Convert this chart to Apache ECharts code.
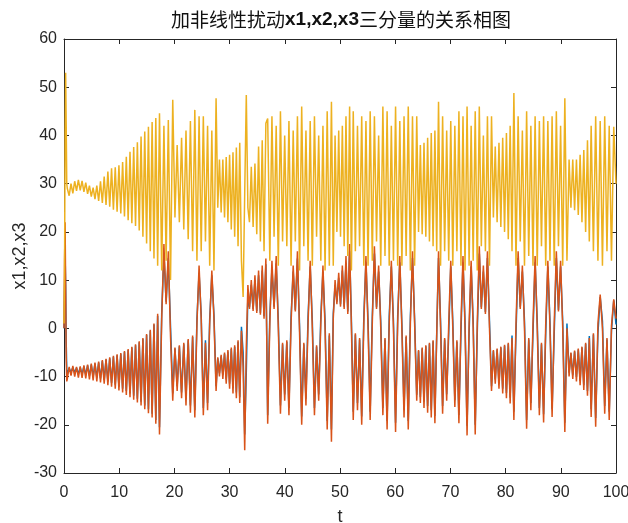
<!DOCTYPE html>
<html><head><meta charset="utf-8">
<script src="https://cdn.jsdelivr.net/npm/echarts@6/dist/echarts.min.js"></script>
<style>html,body{margin:0;padding:0;background:#fff}#c{width:628px;height:523px}</style>
</head><body><div id="c"></div>
<script>
// time at which each data segment starts; points inside a segment are evenly spaced
const segStart = [0, 0.6, 17.3, 19.7, 23.7, 27.55, 32.45, 33.6, 36.9, 48.45, 52.4, 63.9, 67.85, 77.45, 81.5, 91.5, 95.5];
const tEnd = 100;

// x2 (orange) successive extremes per segment
const x2Segs = [
  [0, 14, 22, 8, -6, -11],
  [-10.5,-8, -9.8,-7.8, -10,-8, -10.2,-7.9, -10.3,-7.7, -10.4,-7.5, -10.6,-7.3, -10.8,-7.1, -11,-6.9, -11.2,-6.6,
   -11.5,-6.3, -11.8,-6, -12.1,-5.7, -12.5,-5.4, -12.9,-5.1, -13.3,-4.7, -13.8,-4.3, -14.3,-3.8, -14.8,-3.3, -15.4,-2.7,
   -16,-2, -16.8,-1.2, -17.6,-0.3, -18.5,1, -19.8,3],
  [-22, 2, 17.5, 5, 16, -1.8],
  [-15, -4, -13, -3.5, -14.5, -3, -16, -2.2, -17.5, -1.5],
  [-18.5, 1, 13, 2, -18, -3, -17, 1, 12, 2],
  [-13, -6, -10, -5.5, -10.5, -5, -11.5, -4.5, -12.5, -4, -13.5, -3.5, -14.5, -2.5, -15.5, -0.5],
  [-8, -25.3, -4, 9],
  [4, 10, 3.6, 11, 3.2, 12, 2.8, 13, 2, 14.5],
  [-19.8, 1, 14, 4, 15, 0, -17.7, -3, -15, -2.5, -18, 1, 13, 3.5, 16, -1, -20, -3, -16, 1, 14, 0, -18, -3.5, -15, 1, 13, 0, -21, -1],
  [-23.5, 2, 10, 5, 11.5, 4.5, 13, 4, 15, 3, 17.5, 0],
  [-19, -1, -17, -2, -20, 1, 15, 0, -19, 1, 17, 4, 13, 0, -18, -2, -21, 1, 14, 0, -21.5, 1, 15, -0.5, -18.5, -1.5, -21, 1, 16, 1],
  [-15, -4.5, -15.5, -4, -16.5, -3.5, -17.5, -3, -18.5, -2.5, -19.7, -1.5],
  [16, 0, -17.7, -2, -15, 1, 14, 0, -16.3, -2.5, -19.7, 1, 15, 0, -22.2, 1, 14, 0, -22, 1, 17, 4, 13, 3, 16, 0],
  [-13, -4.5, -11.5, -4.2, -12.5, -3.8, -13.5, -3.4, -14.5, -3, -15.6, -2],
  [-19, 1, 16, 4, 13, 0, -20.8, -2, -17, 1, 15, 0, -18, -3, -19.5, 1, 14, 0, -18.4, 1, 16, 3.5, 14, 0, -21.5, 0],
  [-10, -5, -10.5, -4.6, -11, -4.2, -11.8, -3.8, -12.8, -3, -14, -2],
  [-18.4, -1, -20.4, 1, 7, 0, -17.7, -2, -19, 0.5, 6, 2]
];

// x1 (blue) successive extremes per segment
const x1Segs = [
  [0, 8, 15, 9, -3, -8.5],
  [-9.4,-8.3, -9.1,-8.1, -9.2,-8.2, -9.4,-8.1, -9.5,-7.9, -9.6,-7.7, -9.8,-7.5, -10,-7.3, -10.2,-7.1, -10.4,-6.8,
   -10.7,-6.5, -11,-6.2, -11.3,-5.9, -11.7,-5.6, -12.1,-5.3, -12.5,-4.9, -13,-4.5, -13.5,-4, -14,-3.5, -14.6,-2.9,
   -15.2,-2.2, -16,-1.4, -16.8,-0.5, -17.7,0.8, -19,2.6],
  [-20.5, 3, 15.5, 5.5, 14.5, 0.3],
  [-13.5, -4.2, -12, -3.7, -13.3, -3.3, -14.7, -2.5, -16, -1.8],
  [-17, 2, 11.5, 2.8, -16.5, -2.5, -15.5, 2, 11, 2.8],
  [-12, -6.2, -9.3, -5.8, -9.7, -5.3, -10.6, -4.8, -11.5, -4.3, -12.4, -3.8, -13.3, -2.8, -14.3, 0.3],
  [-5, -22, -9, 7],
  [4.4, 9, 4, 10, 3.6, 11, 3.2, 12, 2.5, 13.3],
  [-18, 2.5, 12.5, 4.5, 13.5, 1.5, -16, -3.3, -13.7, -2.8, -16.5, 2.5, 11.8, 3.8, 14.5, 0.5, -18.3, -3.3, -14.6, 2.5, 12.8, 1.5, -16.5, -3.8, -13.7, 2.5, 11.8, 1.5, -19.2, -1.5],
  [-21, 3, 9, 5.5, 10.5, 5, 12, 4.5, 13.5, 3.5, 16, 1.5],
  [-17.3, -1.3, -15.5, -2.3, -18.3, 2.5, 13.7, 1.5, -17.3, 2.5, 15.5, 4.4, 11.8, 1.5, -16.5, -2.3, -19.2, 2.5, 12.8, 1.5, -19.6, 2.5, 13.7, 0.8, -16.9, -1.8, -19.2, 2.5, 14.6, 2],
  [-13.8, -4.7, -14.3, -4.2, -15.2, -3.7, -16.1, -3.2, -17, -2.7, -18.2, -1],
  [14.6, 1.5, -16.1, -2.3, -13.7, -1, 12.8, 1.5, -14.9, -2.8, -18, -1, 13.7, 1.5, -20.2, -1, 12.8, 1.5, -20, -1, 15.5, 4.4, 11.8, 3.4, 14.6, 1.5],
  [-12, -4.7, -10.6, -4.4, -11.5, -4, -12.5, -3.6, -13.4, -3.2, -14.4, -1.5],
  [-17.3, -1, 14.6, 4.4, 11.8, 1.5, -19, -2.3, -15.5, -1, 13.7, 1.5, -16.5, -3.3, -17.8, -1, 12.8, 1.5, -16.8, -1, 14.6, 3.8, 12.8, 1.5, -19.6, 1],
  [-9.2, -5.2, -9.7, -4.8, -10.1, -4.4, -10.9, -4, -11.8, -3.2, -13, -1.6],
  [-16.8, -1.3, -18.6, -1, 6.5, 1.5, -16.1, -2.3, -17.3, -0.5, 5.8, 0.8]
];

// x3 (yellow) successive extremes per segment
const x3Segs = [
  [1, 12, 40, 53, 42, 30],
  [29,27.5, 30,28, 30.5,28.5, 30.8,28.6, 30.6,28.3, 30.2,27.9, 29.6,27.3, 29.2,26.8, 29.6,26.4, 30.5,26,
   31.5,25.6, 32.5,25.2, 33.2,24.6, 33.4,24.2, 33.8,23.8, 34.5,23.2, 35.6,22.4, 36.6,21.8, 37.6,21.2, 38.6,20.3,
   39.8,19, 40.8,17.6, 41.8,16, 42.8,14.5, 43.6,13],
  [44.6, 12, 42, 14, 43.2, 10],
  [47.4, 23, 38, 22, 39.5, 20.5, 41, 18.5, 43, 16],
  [45.3, 14, 44, 16, 44, 18, 42, 13, 41, 12],
  [47.7, 25, 35, 24, 35, 23, 35.5, 22, 36, 20.5, 36.5, 19, 37.5, 17, 38.5, 14],
  [6.5, 28, 48.4, 25],
  [22, 33.5, 21, 34.2, 19.5, 37.7, 18, 39, 16, 42.5],
  [43.5, 14, 44, 19, 42, 13, 45, 18, 40, 17, 43, 13, 41, 18, 44, 12, 46, 17, 41, 14, 43, 13, 44, 19, 40, 14, 42, 12, 45, 13],
  [47, 13, 40, 20, 41, 19, 42, 17, 44, 15, 46, 12],
  [45, 16, 42, 17, 44, 13, 43, 13, 45, 14, 44, 18, 40, 13, 46, 15, 45, 13, 42, 14, 46, 13, 43, 13, 44, 15, 46, 12, 44, 13],
  [44, 20, 38, 19.5, 38.5, 19, 39.5, 18, 40.5, 17, 41, 16],
  [47, 13, 44, 16, 41, 14, 43, 13, 42, 16, 45, 13, 44, 12, 46, 13, 42, 14, 45, 12, 46, 17, 40, 16, 44, 13],
  [44, 23, 37.7, 22, 38.5, 21, 39.5, 20, 40.5, 18.5, 42, 16],
  [48.8, 13, 44, 18, 41, 13, 45, 15, 42, 13, 44, 13, 43, 17, 44, 13, 43, 14, 44, 13, 45, 17, 42, 13, 47.7, 14],
  [35, 25, 35, 24.5, 35, 23.5, 36, 22, 37, 20, 39, 18],
  [42, 16, 44, 14, 43, 13, 44, 16, 42, 14, 41.8, 30]
];

const xTicks = [0,10,20,30,40,50,60,70,80,90,100];
const yTicks = [-30,-20,-10,0,10,20,30,40,50,60];

function build(segs) {
  const out = [];
  const last = segs.length - 1;
  segs.forEach((vals, i) => {
    const s = segStart[i];
    const e = i < last ? segStart[i + 1] : tEnd;
    const step = i < last ? (e - s) / vals.length : (e - s) / (vals.length - 1);
    vals.forEach((v, j) => out.push([s + j * step, v]));
  });
  return out;
}

const axisCol = '#262626';
const font = 'Liberation Sans, Arial, Helvetica, sans-serif';
const chart = echarts.init(document.getElementById('c'), null, {renderer: 'canvas'});
const common = {
  axisLine: {show: true, onZero: false, lineStyle: {color: axisCol, width: 1}},
  axisTick: {show: true, inside: true, length: 5, lineStyle: {color: axisCol, width: 1}},
  splitLine: {show: false}
};
chart.setOption({
  animation: false,
  backgroundColor: '#fff',
  title: {
    text: '{c|加非线性扰动}{b|x1,x2,x3}{c|三分量的关系相图}',
    left: 166, top: 5,
    textStyle: {
      fontWeight: 'normal',
      rich: {
        c: {fontFamily: 'Noto Sans CJK SC', fontSize: 19, fontWeight: 'normal', color: '#111'},
        b: {fontFamily: font, fontWeight: 'bold', fontSize: 19, color: '#111'}
      }
    }
  },
  grid: {left: 64, right: 12, top: 39, bottom: 50, containLabel: false, outerBoundsMode: 'none'},
  xAxis: [
    Object.assign({type: 'value', min: xTicks[0], max: xTicks[xTicks.length-1], interval: 10, position: 'bottom',
      name: 't', nameLocation: 'middle', nameGap: 35, nameMoveOverlap: false,
      nameTextStyle: {fontFamily: font, fontSize: 18, color: axisCol},
      axisLabel: {color: axisCol, fontFamily: font, fontSize: 16, margin: 12}}, common),
    Object.assign({type: 'value', min: xTicks[0], max: xTicks[xTicks.length-1], interval: 10, position: 'top',
      axisLabel: {show: false}}, common)
  ],
  yAxis: [
    Object.assign({type: 'value', min: yTicks[0], max: yTicks[yTicks.length-1], interval: 10, position: 'left',
      name: 'x1,x2,x3', nameLocation: 'middle', nameGap: 35, nameMoveOverlap: false,
      nameTextStyle: {fontFamily: font, fontSize: 18, color: axisCol},
      axisLabel: {color: axisCol, fontFamily: font, fontSize: 16, margin: 7}}, common),
    Object.assign({type: 'value', min: yTicks[0], max: yTicks[yTicks.length-1], interval: 10, position: 'right',
      axisLabel: {show: false}}, common)
  ],
  series: [
    {name: 'x1', type: 'line', data: build(x1Segs), showSymbol: false, symbol: 'none', color: '#0072BD',
     lineStyle: {width: 1.5, color: '#0072BD'}, z: 2},
    {name: 'x2', type: 'line', data: build(x2Segs), showSymbol: false, symbol: 'none', color: '#D95319',
     lineStyle: {width: 1.5, color: '#D95319'}, z: 3},
    {name: 'x3', type: 'line', data: build(x3Segs), showSymbol: false, symbol: 'none', color: '#EDB120',
     lineStyle: {width: 1.5, color: '#EDB120'}, z: 4}
  ]
});
</script></body></html>
